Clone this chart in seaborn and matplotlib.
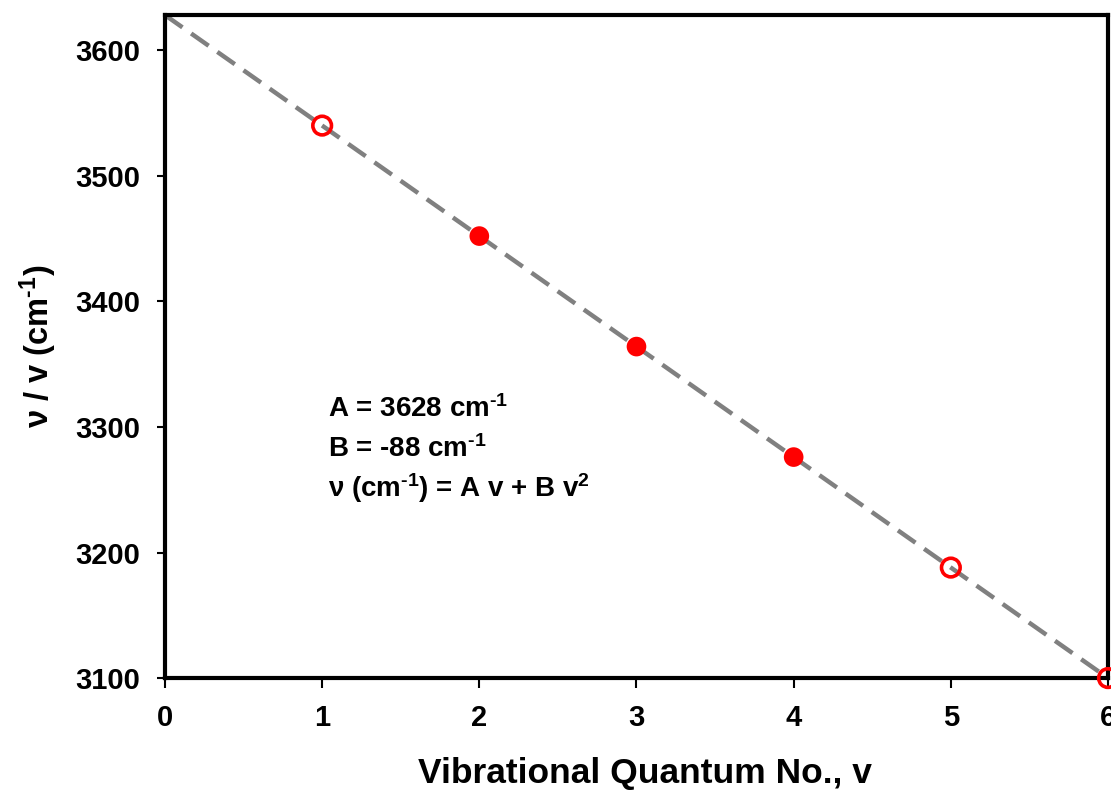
import matplotlib
matplotlib.use("Agg")
import matplotlib.pyplot as plt
import seaborn as sns
import pandas as pd

# ---- data ----
quantum_no = [1, 2, 3, 4, 5, 6]
freq_per_v = [3540, 3452, 3364, 3276, 3188, 3100]
filled = [False, True, True, True, False, False]
fit_x = [0, 6]
fit_y = [3628, 3100]
x_ticks = [0, 1, 2, 3, 4, 5, 6]
y_ticks = [3100, 3200, 3300, 3400, 3500, 3600]
annotations = [r"A = 3628 cm$^{\text{-1}}$",
               r"B = -88 cm$^{\text{-1}}$",
               r"ν (cm$^{\text{-1}}$) = A v + B v$^{2}$"]

sns.set_theme(style="ticks")
plt.rcParams["font.family"] = ["Liberation Sans", "DejaVu Sans"]
plt.rcParams["font.weight"] = "bold"
plt.rcParams["mathtext.fontset"] = "custom"
plt.rcParams["mathtext.rm"] = "Liberation Sans:bold"
plt.rcParams["mathtext.it"] = "Liberation Sans:bold"
plt.rcParams["mathtext.bf"] = "Liberation Sans:bold"
plt.rcParams["mathtext.default"] = "rm"
plt.rcParams["text.color"] = "black"
plt.rcParams["axes.labelcolor"] = "black"

df = pd.DataFrame({"v": quantum_no, "nu": freq_per_v, "filled": filled})
fit = pd.DataFrame({"v": fit_x, "nu": fit_y})

fig = plt.figure(figsize=(11.11, 7.94), dpi=100)
ax = fig.add_axes([0.1485, 0.146, 0.8488, 0.835])

sns.lineplot(data=fit, x="v", y="nu", ax=ax, color="#808080", linewidth=3.2,
             linestyle=(0, (4.8, 2.4)), zorder=2)
sns.scatterplot(data=df[df["filled"]], x="v", y="nu", ax=ax, color="red",
                s=200, edgecolor="none", zorder=3)
sns.scatterplot(data=df[~df["filled"]], x="v", y="nu", ax=ax,
                facecolor="none", edgecolor="red", linewidth=2.6,
                s=180, zorder=4)
for coll in ax.collections:
    coll.set_clip_on(False)

ax.set_xlim(0, 6)
ax.set_ylim(3100, 3628)
ax.set_xticks(x_ticks)
ax.set_yticks(y_ticks)
ax.tick_params(axis="both", labelsize=21, width=1.5, color="black",
               labelcolor="black")
ax.tick_params(axis="y", length=6, pad=12)
ax.tick_params(axis="x", length=7, pad=12)
for lab in ax.get_xticklabels() + ax.get_yticklabels():
    lab.set_fontweight("bold")

for sp in ax.spines.values():
    sp.set_visible(True)
    sp.set_linewidth(3)
    sp.set_color("black")

ax.set_xlabel("Vibrational Quantum No., v", fontsize=25.5, fontweight="bold")
ax.xaxis.set_label_coords(0.509, -0.119)
ax.set_ylabel(r"ν / v (cm$^{\text{-1}}$)", fontsize=23.5, fontweight="bold")
ax.yaxis.set_label_coords(-0.1124, 0.5)

ys = [0.3937, 0.3333, 0.273]
for t, y in zip(annotations, ys):
    ax.text(0.1729, y, t, transform=ax.transAxes, fontsize=20,
            fontweight="bold", va="baseline", ha="left", color="black")

fig.savefig("out.png", dpi=100)
